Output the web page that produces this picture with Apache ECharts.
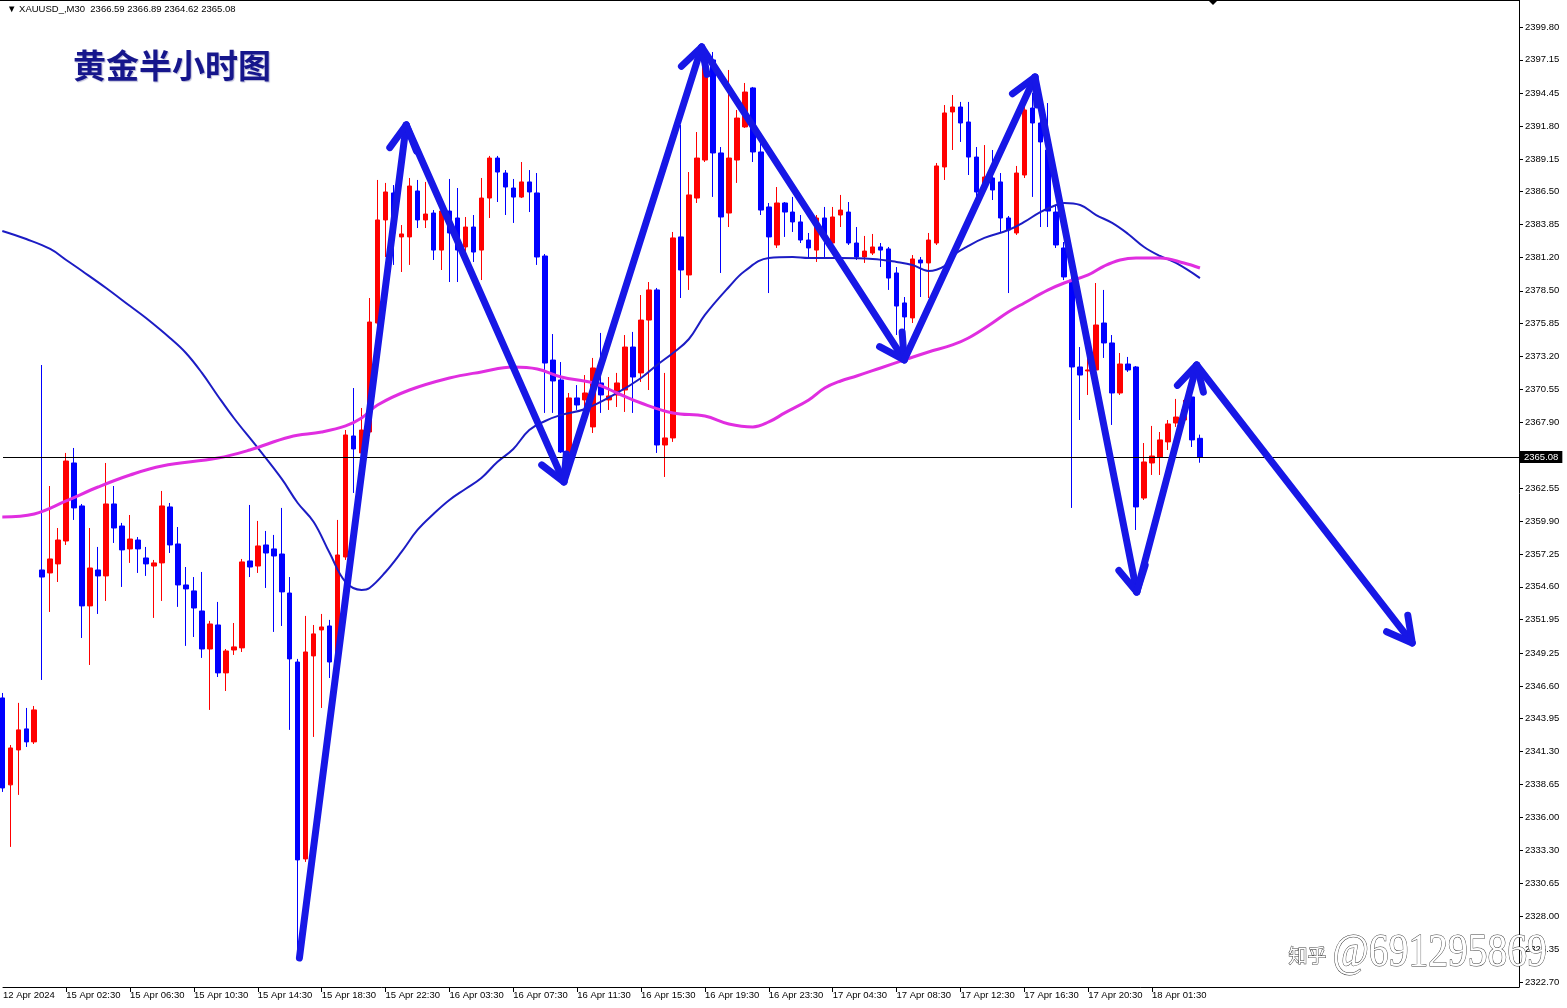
<!DOCTYPE html>
<html><head><meta charset="utf-8">
<script src="https://cdn.jsdelivr.net/npm/echarts@6/dist/echarts.min.js"></script>
<style>html,body{margin:0;padding:0;background:#fff}#c{width:1567px;height:1008px}</style>
</head><body><div id="c"></div>
<script>
// ---- data (XAUUSD M30, candles indexed from -1) ----
const firstIndex = -1;
const opens = [2345.63,2338.61,2341.43,2343.13,2342.08,2355.96,2355.72,2356.45,2358.30,2364.60,
2361.13,2353.06,2355.96,2355.48,2361.29,2359.51,2357.66,2358.38,2356.93,2356.28,
2356.53,2361.05,2358.06,2354.75,2354.27,2352.65,2349.58,2351.52,2347.65,2349.50,
2349.67,2356.69,2356.28,2357.98,2357.66,2357.25,2354.10,2348.53,2332.63,2349.02,
2351.12,2351.44,2349.26,2357.01,2366.78,2365.41,2367.10,2375.90,2384.22,2386.40,
2382.85,2382.85,2386.56,2384.22,2384.78,2381.79,2384.94,2384.38,2382.04,2383.65,
2381.79,2385.99,2389.22,2388.01,2386.80,2386.07,2387.29,2386.40,2381.31,2372.91,
2371.30,2365.41,2369.85,2369.69,2367.51,2371.06,2369.69,2370.09,2370.49,2373.96,
2371.87,2376.14,2378.57,2366.05,2366.62,2382.85,2379.78,2385.99,2389.06,2397.14,
2389.63,2384.78,2389.06,2391.73,2394.88,2389.71,2385.27,2382.20,2385.59,2384.86,
2384.06,2382.60,2381.79,2384.38,2382.36,2384.62,2384.86,2382.36,2381.23,2381.55,
2382.04,2381.88,2379.94,2377.52,2376.31,2380.99,2380.75,2382.36,2388.50,2392.94,
2393.34,2392.13,2389.30,2386.80,2387.61,2387.29,2384.38,2383.17,2387.85,2393.26,
2392.05,2389.87,2384.86,2381.96,2379.37,2372.35,2372.03,2372.11,2375.90,2374.29,
2370.25,2372.59,2372.35,2361.77,2364.60,2365.08,2366.30,2367.83,2368.07,2369.93,
2366.59];
const highs = [2346.03,2341.83,2345.23,2344.82,2344.98,2372.51,2362.74,2359.35,2365.41,2365.81,
2361.29,2359.35,2357.82,2364.60,2362.74,2359.76,2360.40,2358.62,2357.82,2356.77,
2362.34,2361.37,2359.43,2356.20,2355.39,2355.80,2351.85,2353.38,2349.58,2351.68,
2356.85,2361.21,2359.92,2359.11,2358.79,2360.97,2355.39,2348.78,2352.25,2351.52,
2352.41,2351.93,2360.00,2367.26,2370.65,2369.04,2377.92,2387.45,2387.21,2387.04,
2383.81,2387.61,2387.45,2387.29,2385.02,2385.83,2387.53,2386.80,2384.46,2384.62,
2387.61,2389.39,2389.39,2388.25,2387.53,2388.90,2388.25,2388.01,2381.47,2375.01,
2372.75,2370.25,2370.89,2371.70,2373.08,2375.10,2371.54,2371.87,2374.93,2375.18,
2378.16,2379.21,2378.73,2371.87,2383.25,2391.89,2388.09,2391.32,2397.78,2397.78,
2390.11,2396.33,2393.10,2395.28,2394.96,2390.44,2385.59,2386.88,2385.67,2386.08,
2384.62,2383.17,2384.62,2385.27,2385.27,2386.24,2385.67,2383.65,2382.93,2383.09,
2382.36,2382.04,2380.42,2378.00,2381.39,2381.23,2383.17,2388.82,2393.50,2394.31,
2393.75,2393.75,2390.11,2390.27,2389.87,2388.01,2384.54,2388.58,2393.66,2394.47,
2393.66,2393.66,2385.43,2382.44,2379.94,2373.96,2373.88,2379.13,2378.57,2374.93,
2373.48,2373.16,2372.43,2366.21,2367.59,2367.10,2368.07,2369.77,2369.69,2370.25,
2366.89];
const lows = [2338.04,2333.60,2337.80,2341.67,2341.91,2347.08,2352.57,2354.99,2357.98,2360.00,
2350.47,2348.29,2352.41,2353.46,2358.14,2354.59,2356.53,2355.72,2355.48,2352.09,
2353.46,2357.33,2352.98,2349.83,2350.55,2348.86,2344.66,2347.32,2346.19,2349.10,
2349.34,2355.39,2355.72,2354.51,2350.96,2351.44,2343.05,2324.88,2332.39,2342.48,
2344.82,2347.24,2348.53,2356.77,2362.18,2365.00,2366.78,2375.34,2381.23,2380.59,
2380.02,2380.59,2383.57,2383.57,2380.99,2380.18,2379.21,2379.21,2381.55,2380.83,
2379.37,2384.38,2385.67,2384.62,2383.98,2385.99,2384.86,2380.59,2368.64,2368.64,
2365.41,2364.84,2368.88,2368.88,2367.02,2368.64,2368.88,2369.12,2368.72,2368.64,
2371.14,2370.49,2365.41,2363.47,2366.30,2377.92,2378.57,2385.59,2388.90,2386.08,
2379.94,2383.65,2387.21,2391.65,2388.90,2384.62,2378.32,2381.96,2382.85,2383.25,
2382.36,2381.15,2380.83,2381.23,2382.04,2383.65,2382.20,2380.99,2380.75,2381.39,
2380.42,2378.57,2374.93,2374.37,2375.90,2378.00,2377.92,2382.20,2387.45,2389.87,
2390.52,2387.85,2386.08,2386.48,2385.83,2383.17,2378.32,2383.01,2387.61,2386.08,
2383.65,2383.65,2381.96,2379.37,2360.97,2368.07,2370.09,2372.03,2373.08,2367.67,
2370.09,2371.95,2359.19,2361.61,2363.63,2363.63,2365.65,2367.51,2367.67,2365.89,
2364.62];
const closes = [2338.36,2341.59,2343.05,2342.08,2344.66,2355.39,2356.85,2358.38,2364.76,2360.97,
2353.06,2356.12,2355.48,2361.29,2359.35,2357.58,2358.46,2357.66,2356.45,2356.53,
2361.13,2357.98,2354.75,2354.43,2352.89,2349.58,2351.60,2347.65,2349.42,2349.75,
2356.61,2356.20,2357.90,2357.33,2357.09,2354.19,2348.78,2332.55,2349.34,2350.80,
2351.36,2348.53,2357.17,2366.86,2365.73,2367.26,2375.98,2384.22,2386.48,2383.17,
2383.09,2386.96,2384.22,2384.70,2381.79,2384.94,2383.17,2381.79,2383.65,2381.63,
2385.99,2389.22,2388.09,2386.88,2386.07,2387.29,2386.48,2381.23,2372.67,2371.22,
2365.49,2369.85,2369.28,2370.25,2372.27,2370.09,2370.01,2371.06,2373.96,2371.54,
2376.14,2378.57,2366.05,2366.62,2382.77,2380.18,2386.24,2389.22,2397.14,2389.63,
2384.46,2389.22,2392.45,2394.55,2389.71,2385.02,2382.85,2385.59,2384.86,2384.06,
2382.60,2381.96,2384.38,2382.85,2384.46,2385.02,2382.36,2381.23,2381.71,2382.04,
2381.79,2379.53,2377.27,2376.39,2381.07,2380.75,2382.60,2388.58,2392.86,2393.34,
2392.05,2389.30,2386.48,2387.69,2386.64,2384.38,2383.41,2388.01,2393.10,2392.05,
2390.52,2384.94,2382.20,2379.62,2372.35,2371.70,2372.11,2375.74,2374.29,2370.25,
2372.59,2372.11,2361.05,2364.68,2365.16,2366.46,2367.75,2368.31,2368.88,2366.46,
2365.08];

// moving averages [candle index, price]
const maBlue = [[-1,2383.33],[2,2382.68],[5,2381.88],[7,2380.99],[9,2380.10],[12,2378.73],[15,2377.27],
[17,2376.30],[20,2374.69],[22,2373.48],[24,2371.87],[26,2370.01],[28,2368.23],[31,2365.81],[34,2363.31],
[36,2361.37],[38,2359.84],[40,2357.33],[42,2354.99],[44,2354.35],[45,2354.51],[47,2355.80],[49,2357.42],
[51,2359.19],[53,2360.48],[55,2361.61],[57,2362.50],[59,2363.39],[61,2364.68],[63,2365.73],[65,2367.26],
[67,2367.99],[69,2368.48],[72,2368.96],[76,2370.25],[79,2371.46],[81,2372.51],[83,2373.48],[85,2374.61],
[87,2376.55],[90,2378.81],[92,2380.10],[95,2381.15],[98,2381.23],[100,2381.15],[104,2381.15],[108,2381.07],
[111,2380.83],[113,2380.59],[115,2380.10],[117,2380.50],[118,2381.31],[120,2382.12],[122,2382.77],
[125,2383.41],[127,2384.06],[129,2384.86],[131,2385.43],[132,2385.59],[134,2385.43],[136,2384.62],
[138,2383.98],[140,2383.09],[142,2382.04],[144,2381.31],[146,2380.75],[149,2379.53]];
const maMagenta = [[-1,2360.24],[3,2360.48],[7,2361.53],[11,2362.66],[15,2363.63],[19,2364.36],[26,2365.00],
[30,2365.65],[35,2366.70],[39,2367.10],[42,2367.59],[44,2368.23],[46,2369.28],[50,2370.49],[55,2371.46],
[59,2371.95],[63,2372.35],[66,2372.19],[69,2371.54],[73,2371.06],[76,2370.25],[79,2369.44],[83,2368.64],
[87,2368.39],[90,2367.75],[93,2367.51],[95,2367.91],[97,2368.64],[100,2369.69],[102,2370.65],[104,2371.22],
[106,2371.62],[109,2372.27],[112,2372.92],[115,2373.56],[118,2374.13],[120,2374.69],[123,2375.90],
[125,2376.79],[127,2377.52],[130,2378.57],[132,2379.13],[135,2379.78],[137,2380.50],[139,2380.99],
[141,2381.15],[144,2381.15],[147,2380.75],[149,2380.34]];

// hand-drawn zigzag annotation [candle index, price]
const arrowPath = [[36.21,2324.63],[49.59,2391.89],[69.34,2363.07],[86.59,2398.19],[111.96,2372.92],
[128.34,2395.76],[141.09,2354.18],[148.59,2372.51],[175.59,2350.07]];

const yTicks = [2399.80,2397.15,2394.45,2391.80,2389.15,2386.50,2383.85,2381.20,2378.50,2375.85,2373.20,
2370.55,2367.90,2362.55,2359.90,2357.25,2354.60,2351.95,2349.25,2346.60,2343.95,2341.30,2338.65,
2336.00,2333.30,2330.65,2328.00,2325.35,2322.70];
const xTickIndex = [-0.9125,7,15,23,31,39,47,55,63,71,79,87,95,103,111,119,127,135,143];
const xTickLabels = ['12 Apr 2024','15 Apr 02:30','15 Apr 06:30','15 Apr 10:30','15 Apr 14:30','15 Apr 18:30',
'15 Apr 22:30','16 Apr 03:30','16 Apr 07:30','16 Apr 11:30','16 Apr 15:30','16 Apr 19:30','16 Apr 23:30',
'17 Apr 04:30','17 Apr 08:30','17 Apr 12:30','17 Apr 16:30','17 Apr 20:30','18 Apr 01:30'];
const symbolName = 'XAUUSD_,M30';
const chartTitle = '黄金半小时图';
const watermarkLogo = '知乎';
const watermarkUser = '@691295869';

// ---- build ----
const n = opens.length;
const last = n - 1;
const lastPrice = closes[last];
const candleData = opens.map((o, k) => [firstIndex + k, o, closes[k], lows[k], highs[k]]);
const segs = [];
for (let k = 0; k < arrowPath.length - 1; k++) segs.push([arrowPath[k][0], arrowPath[k][1], arrowPath[k+1][0], arrowPath[k+1][1]]);

const AX = 'Liberation Sans, Arial, DejaVu Sans, sans-serif';
const chart = echarts.init(document.getElementById('c'), null, {renderer: 'canvas'});
const arrowColor = '#1717e6';
chart.setOption({
  animation: false,
  backgroundColor: '#ffffff',
  title: [
    {text: '▼ ' + symbolName + '  ' + [opens[last], highs[last], lows[last], closes[last]].map(v => v.toFixed(2)).join(' '),
     left: 2, top: -1, textStyle: {fontSize: 9.5, fontWeight: 'normal', color: '#000', fontFamily: AX}},
    {text: chartTitle, left: 68, top: 44,
     textStyle: {fontSize: 33, fontWeight: 'bold', color: '#16168c', fontFamily: 'Noto Sans CJK SC', textShadowColor: 'rgba(20,20,120,0.3)', textShadowBlur: 1, textShadowOffsetX: 1, textShadowOffsetY: 1}}
  ],
  grid: {left: 0, right: 48, top: 0, bottom: 21, show: false},
  xAxis: {
    type: 'value', min: -0.9125, max: 188.96,
    splitLine: {show: false},
    axisLine: {show: true, onZero: false, lineStyle: {color: '#000', width: 1}},
    axisTick: {show: true, length: 5, lineStyle: {color: '#000'}, customValues: xTickIndex.slice(1)},
    axisLabel: {customValues: xTickIndex, align: 'left', margin: 3, fontSize: 9.5, color: '#000', fontFamily: AX,
      formatter: v => { const k = xTickIndex.findIndex(t => Math.abs(t - v) < 0.01); return k >= 0 ? xTickLabels[k] : ''; }}
  },
  yAxis: {
    type: 'value', position: 'right', min: 2322.29, max: 2401.98, scale: true,
    splitLine: {show: false},
    axisLine: {show: true, onZero: false, lineStyle: {color: '#000', width: 1}},
    axisTick: {show: true, length: 4, lineStyle: {color: '#000'}, customValues: yTicks},
    axisLabel: {customValues: yTicks, margin: 6, fontSize: 9.5, color: '#000', fontFamily: AX, formatter: v => v.toFixed(2)}
  },
  series: [
    {
      type: 'candlestick', data: candleData, encode: {x: 0, y: [1, 2, 3, 4]},
      barWidth: 5, z: 2,
      itemStyle: {color: '#ff0000', color0: '#0000ff', borderColor: '#ff0000', borderColor0: '#0000ff', borderWidth: 1},
      markLine: {
        silent: true, symbol: ['none', 'none'], animation: false,
        lineStyle: {color: '#000', width: 1, type: 'solid'},
        label: {show: true, position: 'end', distance: 1, formatter: lastPrice.toFixed(2), backgroundColor: '#000', color: '#fff', padding: [1, 4, 1, 4], fontSize: 9.5, fontFamily: AX},
        data: [{yAxis: lastPrice}]
      }
    },
    {type: 'line', data: maBlue, smooth: 0.4, showSymbol: false, z: 3, lineStyle: {color: '#1c1cc4', width: 2}},
    {type: 'line', data: maMagenta, smooth: 0.4, showSymbol: false, z: 4, lineStyle: {color: '#e02ee0', width: 3}},
    {
      type: 'custom', z: 10, data: segs, encode: {x: [0, 2], y: [1, 3]}, clip: false,
      renderItem: (params, api) => {
        const a = api.coord([api.value(0), api.value(1)]);
        const b = api.coord([api.value(2), api.value(3)]);
        const ang = Math.atan2(b[1] - a[1], b[0] - a[0]);
        const L = 28, th = 0.5;
        const w1 = [b[0] - L * Math.cos(ang - th), b[1] - L * Math.sin(ang - th)];
        const w2 = [b[0] - L * Math.cos(ang + th), b[1] - L * Math.sin(ang + th)];
        const st = {stroke: arrowColor, lineWidth: 7, lineCap: 'round', lineJoin: 'round', fill: null};
        return {type: 'group', children: [
          {type: 'polyline', shape: {points: [a, b]}, style: st},
          {type: 'polyline', shape: {points: [w1, b, w2]}, style: st}
        ]};
      }
    }
  ],
  graphic: [
    {type: 'rect', shape: {x: 0, y: 0, width: 1519, height: 1}, style: {fill: '#000'}, z: 20},
    {type: 'polygon', shape: {points: [[1208, 0], [1218, 0], [1213, 5]]}, style: {fill: '#000'}, z: 20},
    {type: 'text', left: 1288, top: 946, z: 30,
     style: {text: watermarkLogo, fill: '#ffffff', stroke: '#3a3a3a', lineWidth: 1, font: '19px Noto Sans CJK SC'}},
    {type: 'text', left: 1332, top: 930, z: 30, scaleX: 0.86,
     style: {text: watermarkUser, fill: '#ffffff', stroke: '#3a3a3a', lineWidth: 1, font: '46px Liberation Serif'}}
  ]
});
</script>
</body></html>
